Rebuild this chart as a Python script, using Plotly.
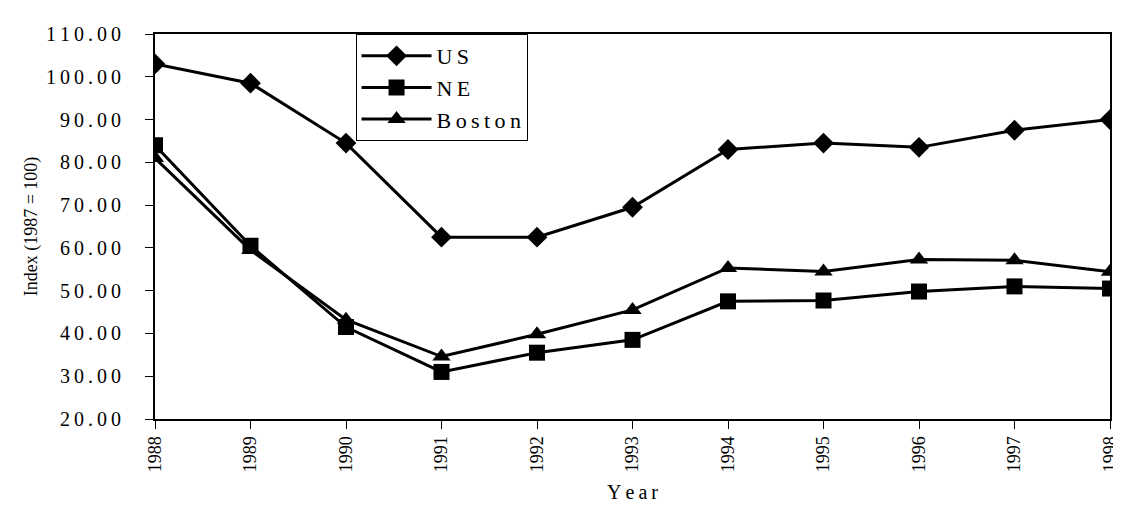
import plotly.graph_objects as go

years = ["1988", "1989", "1990", "1991", "1992", "1993",
         "1994", "1995", "1996", "1997", "1998"]
us = [103.0, 98.5, 84.5, 62.5, 62.5, 69.5, 83.0, 84.5, 83.5, 87.5, 90.0]
ne = [84.0, 60.5, 41.5, 31.0, 35.5, 38.5, 47.5, 47.7, 49.8, 51.0, 50.5]
boston = [81.0, 59.5, 43.2, 34.6, 39.8, 45.5, 55.3, 54.5, 57.3, 57.1, 54.4]
y_ticks = [20, 30, 40, 50, 60, 70, 80, 90, 100, 110]

serif = "Liberation Serif, Times New Roman, serif"


def spaced(s, gap="\u2009"):
    # the scan uses wide letter spacing
    return gap.join(s)


fig = go.Figure()
for name, vals, sym in [("US", us, "diamond"), ("NE", ne, "square"),
                        ("Boston", boston, "triangle-up")]:
    fig.add_trace(go.Scatter(
        x=years, y=vals, mode="lines+markers", name=spaced(name),
        line=dict(color="black", width=3),
        marker=dict(symbol=sym, size=16, color="black"),
    ))

# page body adds an 8px offset, so size and margins are shifted for it
fig.update_layout(
    width=1113, height=498,
    margin=dict(l=147, r=11, t=26, b=87),
    paper_bgcolor="white", plot_bgcolor="white",
    font=dict(family=serif, color="black"),
    showlegend=True,
    legend=dict(
        x=0.21, y=1.0, xanchor="left", yanchor="top",
        bgcolor="white", bordercolor="black", borderwidth=1,
        font=dict(size=22, family=serif), itemwidth=70,
        tracegroupgap=4,
    ),
)
fig.update_xaxes(
    type="category", range=[0, 10], automargin=False,
    showline=True, linecolor="black", linewidth=2, mirror=True,
    showgrid=False, ticks="outside", ticklen=8, tickcolor="black",
    tickangle=-90, tickfont=dict(size=18, family=serif),
    title=dict(text=spaced("Year"), font=dict(size=20, family=serif), standoff=14),
)
fig.update_yaxes(
    range=[20, 110], tickvals=y_ticks, automargin=False,
    ticktext=[spaced(f"{v:.2f}") + "\u00a0" * 4 for v in y_ticks],
    showline=True, linecolor="black", linewidth=2, mirror=True,
    showgrid=False, zeroline=False, ticks="outside", ticklen=8, tickcolor="black",
    tickfont=dict(size=20, family=serif),
    title=dict(text="Index (1987 = 100)", font=dict(size=18, family=serif, color="black"),
               standoff=4),
)

fig.write_html("out.html")
